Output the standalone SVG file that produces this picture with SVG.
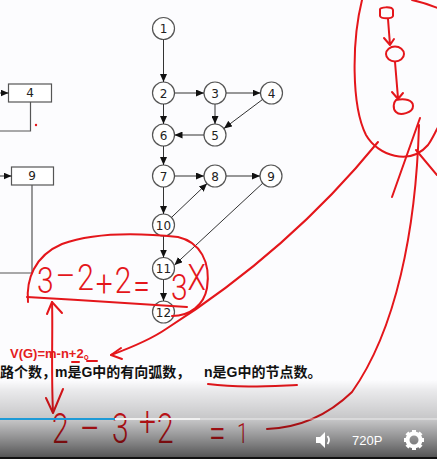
<svg xmlns="http://www.w3.org/2000/svg" width="437" height="459" viewBox="0 0 437 459">
<defs>
<marker id="ah" markerUnits="userSpaceOnUse" markerWidth="8" markerHeight="7" refX="8" refY="3.5" orient="auto"><path d="M0,0 L8,3.5 L0,7 z" fill="#111"/></marker>
<linearGradient id="bar" x1="0" y1="380" x2="0" y2="457" gradientUnits="userSpaceOnUse">
<stop offset="0" stop-color="#000" stop-opacity="0"/>
<stop offset="0.13" stop-color="#000" stop-opacity="0.07"/>
<stop offset="0.52" stop-color="#000" stop-opacity="0.22"/>
<stop offset="0.78" stop-color="#000" stop-opacity="0.45"/>
<stop offset="1" stop-color="#000" stop-opacity="0.66"/>
</linearGradient>
<style>
.node circle{fill:#fff;stroke:#555;stroke-width:1.2}
.node text,.box text{font-family:"DejaVu Sans",sans-serif;font-size:12px;fill:#222;text-anchor:middle}
.box rect{fill:#fff;stroke:#555;stroke-width:1.2}
.edge{fill:none;stroke:#333;stroke-width:1;marker-end:url(#ah)}
.line{fill:none;stroke:#555;stroke-width:1.2}
.ink{fill:none;stroke:#e4161b;stroke-width:2;stroke-linecap:round;stroke-linejoin:round}
.hw{font-family:Roboto,Lato,"Liberation Sans",sans-serif;font-weight:300;fill:#e4161b}
.cn{font-family:"Liberation Sans","Noto Sans CJK SC",sans-serif;font-weight:bold;font-size:14px;fill:#111}
.fr{font-family:"Liberation Sans","Noto Sans CJK SC",sans-serif;font-weight:bold;font-size:13px;fill:#e42020}
</style>
</defs>
<rect width="437" height="459" fill="#fcfcfe"/>

<g id="box4" class="box"><rect x="8.5" y="84" width="43" height="18"/><text x="30" y="97">4</text></g>
<g id="box9" class="box"><rect x="11.5" y="167" width="42" height="18"/><text x="32" y="180">9</text></g>

<g id="n1" class="node"><circle cx="163.5" cy="28.5" r="11"/><text x="163.5" y="33">1</text></g>
<g id="n2" class="node"><circle cx="163.5" cy="93" r="11"/><text x="163.5" y="97.5">2</text></g>
<g id="n3" class="node"><circle cx="215" cy="93" r="11"/><text x="215" y="97.5">3</text></g>
<g id="n4" class="node"><circle cx="271.5" cy="93" r="11"/><text x="271.5" y="97.5">4</text></g>
<g id="n5" class="node"><circle cx="215" cy="135" r="11"/><text x="215" y="139.5">5</text></g>
<g id="n6" class="node"><circle cx="163.5" cy="135" r="11"/><text x="163.5" y="139.5">6</text></g>
<g id="n7" class="node"><circle cx="163.5" cy="176" r="11"/><text x="163.5" y="180.5">7</text></g>
<g id="n8" class="node"><circle cx="215" cy="176" r="11"/><text x="215" y="180.5">8</text></g>
<g id="n9" class="node"><circle cx="271" cy="176" r="11"/><text x="271" y="180.5">9</text></g>
<g id="n10" class="node"><circle cx="163.5" cy="225" r="11"/><text x="163.5" y="229.5">10</text></g>
<g id="n11" class="node"><circle cx="163.5" cy="268.5" r="11"/><text x="163.5" y="273">11</text></g>
<g id="n12" class="node"><circle cx="163.5" cy="312" r="11"/><text x="163.5" y="316.5">12</text></g>

<g id="connectors">
<path class="edge" d="M0 93 L8.5 93"/>
<path class="edge" d="M0 176 L11.5 176"/>
<path class="line" d="M30.5 102 L30.5 131 L0 131"/>
<path class="line" d="M32 185 L32 273 L0 273"/>
<path class="edge" d="M163.5 39.5 L163.5 82"/>
<path class="edge" d="M174.5 93 L204 93"/>
<path class="edge" d="M226 93 L260.5 93"/>
<path class="edge" d="M163.5 104 L163.5 124"/>
<path class="edge" d="M215 104 L215 124"/>
<path class="edge" d="M262.5 99.5 L224 128.4"/>
<path class="edge" d="M204 135 L174.5 135"/>
<path class="edge" d="M163.5 146 L163.5 165"/>
<path class="edge" d="M174.5 176 L204 176"/>
<path class="edge" d="M226 176 L260 176"/>
<path class="edge" d="M163.5 187 L163.5 214"/>
<path class="edge" d="M171.5 217.4 L207 183.6"/>
<path class="edge" d="M262.7 183.2 L174.5 265"/>
<path class="edge" d="M163.5 236 L163.5 257.5"/>
<path class="edge" d="M163.5 279.5 L163.5 301"/>
</g>
<circle cx="36" cy="125" r="1.2" fill="#e4161b"/>

<text class="cn" y="377"><tspan x="0">路个数，</tspan><tspan x="55">m是G中的有向弧数，</tspan><tspan x="204">n是G中的节点数。</tspan></text>
<text class="fr" x="10" y="358">V(G)=m-n+2。</text>

<g id="handwriting">
<path class="ink" d="M28 302 C26 280 34 256 62 244 C95 232 140 233 178 237 C200 242 211 262 207 288 C204 305 190 316 172 316"/>
<path class="ink" d="M27 297 C80 300 130 303 187 307"/>
<path class="ink" d="M111 355 C130 348 150 340 166 329 Q290 250 378 142"/>
<path class="ink" d="M121 348 L111 355 L122 359"/>
<path class="ink" d="M52 302 C53 330 51 370 53 412"/>
<path class="ink" d="M47 314 L52 302 L62 313"/>
<path class="ink" d="M46 398 L53 413 L63 389"/>
<path class="ink" d="M72 362 L79 362 M87 361 L97 361"/>
<path class="ink" d="M208 384 C240 388 270 386 297 385"/>
<path class="ink" d="M362 0 C352 40 351 105 366 135 C378 156 410 166 428 145 C433 138 436 130 440 124"/>
<path class="ink" d="M412 0 Q426 3 440 9"/>
<path class="ink" d="M420 118 L392 197"/>
<path class="ink" d="M419 125 C416 230 396 330 352 392 C322 421 292 428 267 429"/>
<path class="ink" d="M416 150 L437 175"/>
<path class="ink" d="M380 10 C379 7 392 6 393 10 L393 16 C392 19 381 19 380 16 Z"/>
<path class="ink" d="M388 19 L390 45 M384 38 L390 45 L394 39"/>
<ellipse class="ink" cx="395" cy="54" rx="9" ry="7.5"/>
<path class="ink" d="M395 62 L398 98 M392 92 L398 99 L403 93"/>
<path class="ink" d="M396 100 C405 98 413 100 413 106 C413 113 400 116 396 112 C392 108 394 102 396 100 Z"/>
<g transform="translate(0,293) scale(1,1.25)">
<text class="hw" font-size="30" letter-spacing="2" x="37" y="0">3<tspan dy="-4">–</tspan><tspan dy="1.6">2</tspan><tspan dy="4.4">+</tspan><tspan dy="-2">2</tspan><tspan dy="5">=</tspan></text>
<text class="hw" font-size="30" x="171" y="5.6">3<tspan dy="-8">X</tspan></text>
</g>
<g transform="translate(0,443) scale(1,1.4)"><text class="hw" font-size="30"><tspan x="52" y="0">2</tspan><tspan x="80" y="0">–</tspan><tspan x="112" y="0">3</tspan><tspan x="139" y="-5">+</tspan><tspan x="157" y="0">2</tspan><tspan x="209" y="3.5">=</tspan><tspan x="237" y="0" font-size="20">1</tspan></text></g>
</g>

<g id="player">
<rect x="0" y="380" width="437" height="77" fill="url(#bar)"/>
<rect x="0" y="457" width="437" height="2" fill="#111"/>
<rect x="0" y="418" width="437" height="2" fill="#fff" fill-opacity="0.35"/>
<rect x="115" y="418" width="85" height="2" fill="#f2f2f2"/>
<rect x="0" y="418" width="115" height="2" fill="#1e9ad6"/>
<path d="M316 437 L320 437 L325 432 L325 448 L320 443 L316 443 Z" fill="#fff"/>
<path d="M327.5 436 Q330.5 440 327.5 444" fill="none" stroke="#fff" stroke-width="1.8"/>
<text x="352" y="445" font-family="Liberation Sans,sans-serif" font-size="13" fill="#fff">720P</text>
<g transform="translate(414,440)" fill="#fff">
<circle r="6.5" fill="none" stroke="#fff" stroke-width="4"/>
<rect x="-2" y="-10" width="4" height="4"/><rect x="-2" y="6" width="4" height="4"/>
<rect x="-10" y="-2" width="4" height="4"/><rect x="6" y="-2" width="4" height="4"/>
<rect x="-2" y="-10" width="4" height="4" transform="rotate(45)"/><rect x="-2" y="6" width="4" height="4" transform="rotate(45)"/>
<rect x="-10" y="-2" width="4" height="4" transform="rotate(45)"/><rect x="6" y="-2" width="4" height="4" transform="rotate(45)"/>
</g>
</g>
</svg>
